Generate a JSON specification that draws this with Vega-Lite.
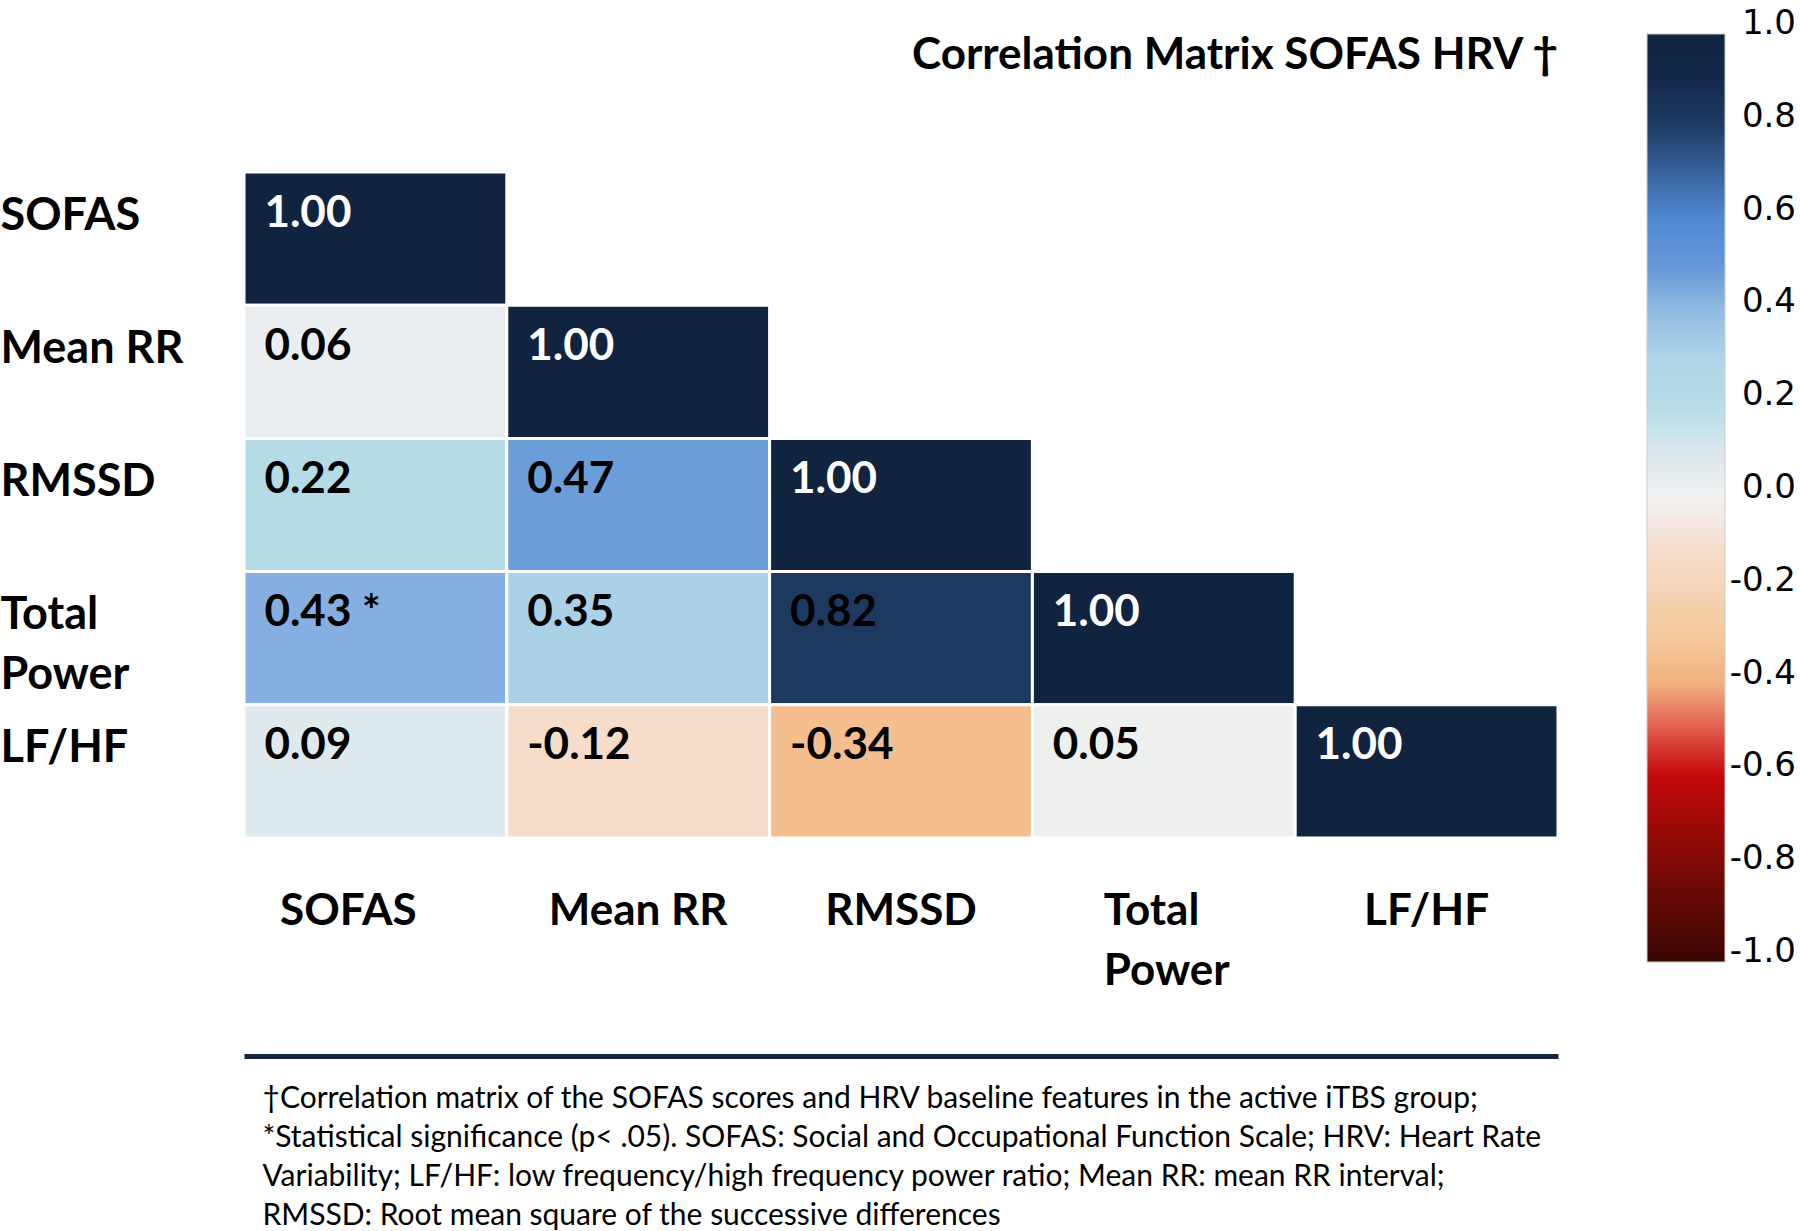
{
  "$schema": "https://vega.github.io/schema/vega-lite/v6.json",
  "width": 1314,
  "height": 666,
  "autosize": {"type": "none"},
  "padding": {"left": 244, "top": 172, "right": 242, "bottom": 393},
  "background": "white",
  "view": {"stroke": null},
  "title": {
    "text": "Correlation Matrix SOFAS HRV †",
    "anchor": "end",
    "frame": "group",
    "font": "Lato",
    "fontSize": 44,
    "fontWeight": "bold",
    "color": "black",
    "baseline": "alphabetic",
    "offset": 0,
    "dy": 79
  },
  "data": {
    "values": [
      {"row": "SOFAS", "col": "SOFAS", "r": 1.0, "label": "1.00"},
      {"row": "Mean RR", "col": "SOFAS", "r": 0.06, "label": "0.06"},
      {"row": "Mean RR", "col": "Mean RR", "r": 1.0, "label": "1.00"},
      {"row": "RMSSD", "col": "SOFAS", "r": 0.22, "label": "0.22"},
      {"row": "RMSSD", "col": "Mean RR", "r": 0.47, "label": "0.47"},
      {"row": "RMSSD", "col": "RMSSD", "r": 1.0, "label": "1.00"},
      {"row": "Total Power", "col": "SOFAS", "r": 0.43, "label": "0.43 *"},
      {"row": "Total Power", "col": "Mean RR", "r": 0.35, "label": "0.35"},
      {"row": "Total Power", "col": "RMSSD", "r": 0.82, "label": "0.82"},
      {"row": "Total Power", "col": "Total Power", "r": 1.0, "label": "1.00"},
      {"row": "LF/HF", "col": "SOFAS", "r": 0.09, "label": "0.09"},
      {"row": "LF/HF", "col": "Mean RR", "r": -0.12, "label": "-0.12"},
      {"row": "LF/HF", "col": "RMSSD", "r": -0.34, "label": "-0.34"},
      {"row": "LF/HF", "col": "Total Power", "r": 0.05, "label": "0.05"},
      {"row": "LF/HF", "col": "LF/HF", "r": 1.0, "label": "1.00"}
    ]
  },
  "encoding": {
    "x": {
      "field": "col",
      "type": "nominal",
      "scale": {"domain": ["SOFAS", "Mean RR", "RMSSD", "Total Power", "LF/HF"], "paddingInner": 0, "paddingOuter": 0},
      "axis": {
        "orient": "bottom",
        "offset": 218,
        "domain": true,
        "domainColor": "#15253f",
        "domainWidth": 5,
        "ticks": false,
        "tickSize": 0,
        "grid": false,
        "labelPadding": -167,
        "labelFont": "Lato",
        "labelFontSize": 44,
        "labelFontWeight": "bold",
        "labelColor": "black",
        "labelAngle": 0,
        "labelBaseline": "top",
        "labelLineHeight": 60,
        "labelLimit": 400,
        "labelOverlap": false,
        "labelExpr": "datum.label == 'Total Power' ? ['Total', 'Power'] : datum.label",
        "labelAlign": {"condition": {"test": "datum.value == 'Total Power'", "value": "left"}, "value": "center"},
        "labelOffset": {"condition": [{"test": "datum.value == 'Total Power'", "value": -60}, {"test": "datum.value == 'SOFAS'", "value": -27}], "value": 0},
        "title": [
          "†Correlation matrix of the SOFAS scores and HRV baseline features in the active iTBS group;",
          "*Statistical significance (p< .05). SOFAS: Social and Occupational Function Scale; HRV: Heart Rate",
          "Variability; LF/HF: low frequency/high frequency power ratio; Mean RR: mean RR interval;",
          "RMSSD:  Root mean square of the successive differences"
        ],
        "titleFont": "Lato",
        "titleFontSize": 30,
        "titleFontWeight": "normal",
        "titleColor": "black",
        "titleAlign": "left",
        "titleAnchor": "start",
        "titleBaseline": "top",
        "titleX": 18,
        "titleY": 27,
        "titleLineHeight": 39
      }
    },
    "y": {
      "field": "row",
      "type": "nominal",
      "scale": {"domain": ["SOFAS", "Mean RR", "RMSSD", "Total Power", "LF/HF"], "paddingInner": 0, "paddingOuter": 0},
      "axis": {
        "orient": "left",
        "domain": false,
        "ticks": false,
        "tickSize": 0,
        "grid": false,
        "labelPadding": 244,
        "labelAlign": "left",
        "labelBaseline": "top",
        "labelOffset": -45,
        "labelFont": "Lato",
        "labelFontSize": 45,
        "labelFontWeight": "bold",
        "labelColor": "black",
        "labelLineHeight": 60,
        "labelLimit": 400,
        "labelOverlap": false,
        "labelExpr": "datum.label == 'Total Power' ? ['Total', 'Power'] : datum.label",
        "title": null
      }
    }
  },
  "layer": [
    {
      "mark": {"type": "rect", "stroke": "white", "strokeWidth": 3},
      "encoding": {
        "color": {
          "field": "r",
          "type": "quantitative",
          "scale": {
            "type": "linear",
            "domain": [-1, -0.8, -0.6, -0.5, -0.4, -0.3, -0.2, -0.1, 0, 0.05, 0.1, 0.2, 0.35, 0.43, 0.47, 0.6, 0.8, 0.9, 1],
            "range": ["#3a0603", "#7a0a06", "#c40808", "#e0594a", "#f3b080", "#f5c898", "#f6d4b8", "#f5dfcf", "#f1f1f1", "#eef0f0", "#dbe8ee", "#b6dce7", "#abd1e7", "#85afe0", "#6b9dd9", "#5089d3", "#1f3d66", "#13284a", "#10233f"],
            "interpolate": "rgb"
          },
          "legend": {
            "orient": "none",
            "legendX": 1403,
            "legendY": -138,
            "direction": "vertical",
            "gradientLength": 928,
            "gradientThickness": 78,
            "gradientStrokeColor": "#cccccc",
            "gradientStrokeWidth": 1,
            "title": null,
            "padding": 0,
            "values": [-1, -0.8, -0.6, -0.4, -0.2, 0, 0.2, 0.4, 0.6, 0.8, 1],
            "labelExpr": "replace(format(datum.value, '.1f'), '\u2212', '-')",
            "labelFont": "DejaVu Sans",
            "labelFontSize": 34,
            "labelColor": "black",
            "labelAlign": "left",
            "labelOffset": 7,
            "labelBaseline": "alphabetic",
            "labelOverlap": false,
            "encode": {
              "labels": {
                "update": {
                  "baseline": {"value": "alphabetic"},
                  "align": {"value": "right"},
                  "dx": {"value": 64}
                }
              }
            }
          }
        }
      }
    },
    {
      "mark": {"type": "text", "align": "left", "baseline": "alphabetic", "dx": -111, "dy": -12, "font": "Lato", "fontSize": 44, "fontWeight": "bold"},
      "encoding": {
        "text": {"field": "label"},
        "color": {"condition": {"test": "datum.r >= 0.99", "value": "white"}, "value": "black"}
      }
    }
  ]
}
